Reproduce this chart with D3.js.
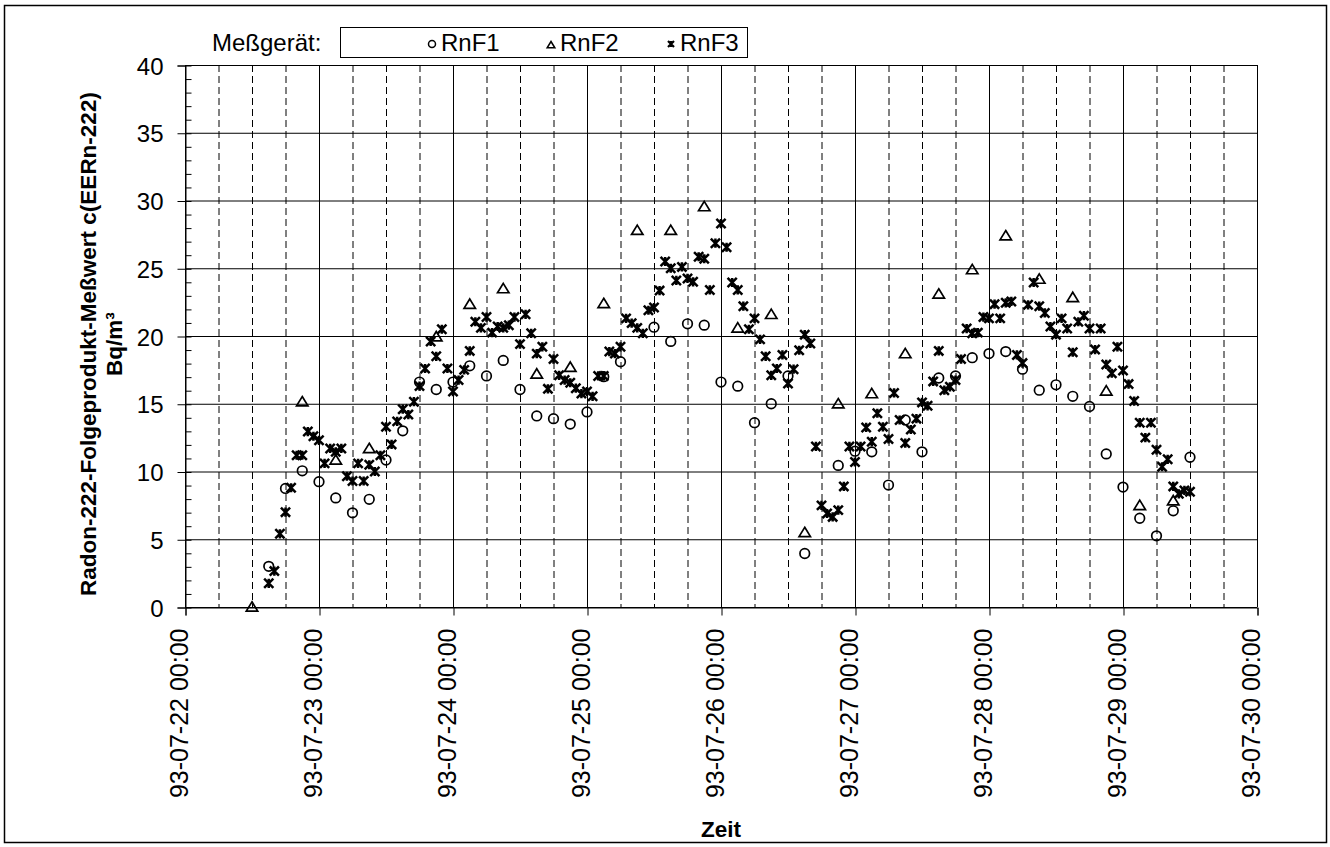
<!DOCTYPE html>
<html>
<head>
<meta charset="utf-8">
<script src="https://cdn.jsdelivr.net/npm/d3@7"></script>
<style>
  body { margin: 0; background: #fff; }
  text { font-family: "Liberation Sans", Arial, sans-serif; fill: #000; }
</style>
</head>
<body>
<script>
// hours after 93-07-22 00:00 and measured values (Bq/m³)
const rnf1Hours = [15, 18, 21, 24, 27, 30, 33, 36, 39, 42, 45, 48, 51, 54, 57, 60, 63, 66, 69, 72, 75, 78,
  84, 87, 90, 93, 96, 99, 102, 105, 108, 111, 117, 120, 123, 126, 129, 132, 135, 138, 141, 144, 147,
  150, 153, 156, 159, 162, 165, 168, 171, 174, 177, 180]
const rnf1Values = [3.0, 8.75, 10.05, 9.25, 8.05, 6.95, 7.95, 10.85, 13.0, 16.6, 16.05, 16.6, 17.8, 17.05, 18.2, 16.05, 14.1, 13.9, 13.5, 14.4, 17.0, 18.1,
  20.65, 19.6, 20.9, 20.8, 16.6, 16.3, 13.6, 15.0, 17.05, 3.95, 10.45, 11.5, 11.45, 9.0, 13.8, 11.45, 16.9, 17.05, 18.4, 18.7, 18.85,
  17.55, 16.0, 16.4, 15.55, 14.8, 11.3, 8.85, 6.55, 5.25, 7.1, 11.05]

const rnf2Hours = [12, 21, 27, 33, 45, 51, 57, 63, 69, 75, 81, 87, 93, 99, 105, 111, 117, 123, 129, 135,
  141, 147, 153, 159, 165, 171, 177]
const rnf2Values = [0.0, 15.15, 10.85, 11.7, 19.95, 22.35, 23.5, 17.2, 17.7, 22.4, 27.8, 27.8, 29.55, 20.6, 21.6, 5.5, 15.0, 15.75, 18.7, 23.1,
  24.9, 27.4, 24.2, 22.85, 15.95, 7.5, 7.85]

const rnf3Hours = d3.range(15, 181)
const rnf3Values = [1.75, 2.65, 5.4, 7.0, 8.8, 11.2, 11.2, 12.95, 12.6, 12.3,        // 15-24
  10.6, 11.7, 11.45, 11.7, 9.65, 9.3, 10.6, 9.3, 10.5, 10.0,                             // 25-34
  11.2, 13.3, 12.0, 13.7, 14.6, 14.2, 15.15, 16.3, 17.6, 19.6,                           // 35-44
  18.5, 20.5, 17.6, 15.9, 16.75, 17.5, 18.9, 21.05, 20.6, 21.4,                          // 45-54
  20.25, 20.7, 20.6, 20.8, 21.4, 19.4, 21.6, 20.2, 18.7, 19.2,                           // 55-64
  16.1, 18.3, 17.1, 16.75, 16.55, 16.15, 15.75, 15.9, 15.55, 17.05,                      // 65-74
  17.05, 18.85, 18.7, 19.2, 21.3, 20.95, 20.6, 20.2, 21.9, 22.1,                         // 75-84
  23.35, 25.5, 25.0, 24.1, 25.1, 24.25, 24.0, 25.85, 25.7, 23.4,                         // 85-94
  26.85, 28.3, 26.55, 23.95, 23.4, 22.2, 20.5, 21.3, 19.75, 18.5,                        // 95-104
  17.1, 17.6, 18.6, 16.5, 17.55, 18.95, 20.1, 19.45, 11.85, 7.5,                         // 105-114
  6.9, 6.65, 7.15, 8.9, 11.85, 10.7, 11.85, 13.25, 12.2, 14.3,                           // 115-124
  13.3, 12.4, 15.8, 13.8, 12.1, 13.1, 13.9, 15.1, 14.85, 16.65,                          // 125-134
  18.9, 16.0, 16.25, 16.75, 18.3, 20.55, 20.2, 20.25, 21.4, 21.3,                        // 135-144
  22.35, 21.3, 22.45, 22.55, 18.6, 18.0, 22.3, 23.95, 22.2, 21.7,                        // 145-154
  20.7, 20.1, 21.3, 20.55, 18.8, 21.05, 21.5, 20.55, 19.0, 20.55,                        // 155-164
  17.9, 17.25, 19.2, 17.45, 16.45, 15.2, 13.6, 12.5, 13.6, 11.6,                         // 165-174
  10.35, 10.9, 8.9, 8.35, 8.6, 8.5]                                                      // 175-180

const seriesNames = ['RnF1', 'RnF2', 'RnF3']
const yTicks = [0, 5, 10, 15, 20, 25, 30, 35, 40]
const yTitle = 'Radon-222-Folgeprodukt-Meßwert c(EERn-222)'
const yUnit = 'Bq/m³'
const xTitle = 'Zeit'
const legendTitle = 'Meßgerät:'

const m = { width: 1330, height: 847, left: 185, right: 1257, top: 65, bottom: 607 }

const svg = d3.select('body').append('svg')
    .attr('width', m.width)
    .attr('height', m.height)

// outer frame
svg.append('rect')
    .attr('x', 4.5).attr('y', 5.5)
    .attr('width', 1322).attr('height', 837)
    .attr('fill', 'none').attr('stroke', '#000').attr('stroke-width', 1.5)

const start = Date.UTC(1993, 6, 22)
const toDate = h => new Date(start + h * 3600e3)

const x = d3.scaleUtc()
    .domain([toDate(0), toDate(192)])
    .range([m.left, m.right])

const y = d3.scaleLinear()
    .domain([0, 40])
    .range([m.bottom, m.top])

// gridlines: 6 hourly verticals, dashed except midnight
const vTicks = x.ticks(d3.utcHour.every(6))
svg.append('g').selectAll('line')
    .data(vTicks)
    .enter().append('line')
        .attr('x1', d => x(d) + 0.5).attr('x2', d => x(d) + 0.5)
        .attr('y1', m.top).attr('y2', m.bottom)
        .attr('stroke', '#000')
        .attr('stroke-width', 1)
        .attr('stroke-dasharray', d => d.getUTCHours() === 0 ? null : '7,4')

svg.append('g').selectAll('line')
    .data(yTicks)
    .enter().append('line')
        .attr('x1', m.left).attr('x2', m.right)
        .attr('y1', d => y(d) + 0.5).attr('y2', d => y(d) + 0.5)
        .attr('stroke', '#000')
        .attr('stroke-width', 1)

// y axis
const yAxis = svg.append('g')
    .attr('transform', `translate(${m.left + 0.5},0.5)`)
    .call(d3.axisLeft(y).tickValues(yTicks).tickSize(8).tickPadding(14).tickFormat(d3.format('d')))
yAxis.select('.domain').attr('stroke', '#000')
yAxis.selectAll('text').attr('font-size', 24).attr('dy', '0.36em')

// minor ticks inside
const yMinor = svg.append('g')
    .attr('transform', `translate(${m.left + 0.5},0.5)`)
    .call(d3.axisRight(y).tickValues(d3.range(0, 41)).tickSize(6).tickFormat(''))
yMinor.select('.domain').remove()

// x axis
const xAxis = svg.append('g')
    .attr('transform', `translate(0.5,${m.bottom + 0.5})`)
    .call(d3.axisBottom(x).ticks(d3.utcDay.every(1)).tickSize(8).tickFormat(d3.utcFormat('%y-%m-%d %H:%M')))
xAxis.selectAll('text')
    .attr('font-size', 25)
    .attr('transform', 'rotate(-90)')
    .attr('text-anchor', 'end')
    .attr('x', -21)
    .attr('y', 2)
    .attr('dy', 0)

// axis titles
const midY = (m.top + m.bottom) / 2 + 8
svg.append('text')
    .attr('transform', `translate(96,${midY}) rotate(-90)`)
    .attr('text-anchor', 'middle')
    .attr('font-size', 22.5).attr('font-weight', 'bold')
    .text(yTitle)
svg.append('text')
    .attr('transform', `translate(122,${midY}) rotate(-90)`)
    .attr('text-anchor', 'middle')
    .attr('font-size', 22.5).attr('font-weight', 'bold')
    .text(yUnit)
svg.append('text')
    .attr('x', 721).attr('y', 837)
    .attr('text-anchor', 'middle')
    .attr('font-size', 22.5).attr('font-weight', 'bold')
    .text(xTitle)

// marker shapes
const triPath = s => `M0,${-s}L${s * 1.1},${s * 0.8}L${-s * 1.1},${s * 0.8}Z`
const starPath = s => `M${-s},${-s}L${s},${s}M${-s},${s}L${s},${-s}M0,${-s}L0,${s}`

function drawCircles(g, hours, values, r) {
  g.selectAll('circle')
    .data(d3.zip(hours, values))
    .enter().append('circle')
      .attr('cx', d => x(toDate(d[0])))
      .attr('cy', d => y(d[1]))
      .attr('r', r)
      .attr('fill', 'none').attr('stroke', '#000').attr('stroke-width', 1.7)
}
function drawPaths(g, hours, values, pathStr, sw) {
  g.selectAll('path')
    .data(d3.zip(hours, values))
    .enter().append('path')
      .attr('transform', d => `translate(${x(toDate(d[0]))},${y(d[1])})`)
      .attr('d', pathStr)
      .attr('fill', 'none').attr('stroke', '#000').attr('stroke-width', sw)
}

drawCircles(svg.append('g'), rnf1Hours, rnf1Values, 4.8)
drawPaths(svg.append('g'), rnf2Hours, rnf2Values, triPath(5.2), 1.7)
drawPaths(svg.append('g'), rnf3Hours, rnf3Values, starPath(4.6), 2.5)

// legend
svg.append('text')
    .attr('x', 212).attr('y', 51)
    .attr('font-size', 24)
    .text(legendTitle)
const leg = svg.append('g')
leg.append('rect')
    .attr('x', 340.5).attr('y', 27.5)
    .attr('width', 407).attr('height', 30)
    .attr('fill', '#fff').attr('stroke', '#000').attr('stroke-width', 1)
const legX = [432, 551, 671]
seriesNames.forEach((name, i) => {
  const cx = legX[i]
  if (i === 0) {
    leg.append('circle').attr('cx', cx).attr('cy', 44).attr('r', 3.5)
      .attr('fill', 'none').attr('stroke', '#000').attr('stroke-width', 1.5)
  } else if (i === 1) {
    leg.append('path').attr('transform', `translate(${cx},45)`).attr('d', triPath(3.5))
      .attr('fill', 'none').attr('stroke', '#000').attr('stroke-width', 1.5)
  } else {
    leg.append('path').attr('transform', `translate(${cx},44)`).attr('d', starPath(3))
      .attr('fill', 'none').attr('stroke', '#000').attr('stroke-width', 2.2)
  }
  leg.append('text')
      .attr('x', cx + 9).attr('y', 51)
      .attr('font-size', 24)
      .text(name)
})
</script>
</body>
</html>
